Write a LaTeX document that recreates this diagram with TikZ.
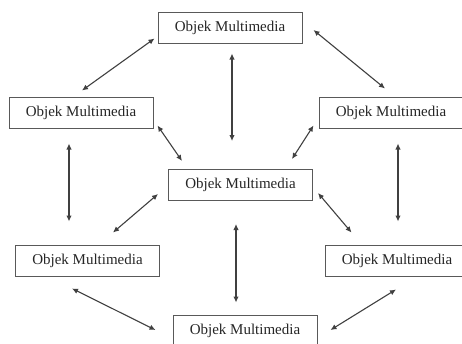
\documentclass[tikz,border=0pt]{standalone}
\usepackage{fontspec}
\setmainfont{Liberation Serif}
\usetikzlibrary{arrows.meta}
\begin{document}
\begin{tikzpicture}[x=1pt,y=1pt,
  obj/.style={draw=black!65,line width=1pt,fill=white,minimum width=144pt,minimum height=31pt,inner sep=0pt,font=\fontsize{15}{18}\selectfont,text=black!85},
  arr/.style={draw=black!75,line width=1.1pt,{Latex[length=6pt,width=5.5pt]}-{Latex[length=6pt,width=5.5pt]}}]
\path[use as bounding box] (0,0) rectangle (462,-343);
\clip (0,0) rectangle (462,-343);
\node[obj] (T)  at (230,-27.5) {Objek Multimedia};
\node[obj] (LU) at (81,-112.5) {Objek Multimedia};
\node[obj] (RU) at (391,-112.5) {Objek Multimedia};
\node[obj] (C)  at (240.5,-185) {Objek Multimedia};
\node[obj] (LL) at (87.5,-260.5) {Objek Multimedia};
\node[obj] (RL) at (397,-260.5) {Objek Multimedia};
\node[obj] (B)  at (245,-330.5) {Objek Multimedia};
% connectors
\draw[arr] ([xshift=1pt,yshift=6pt]LU.north) -- ([xshift=-3pt,yshift=5pt]T.south west);
\draw[arr] ([xshift=11pt,yshift=-2.5pt]T.east) -- ([xshift=-6pt,yshift=8pt]RU.north);
\draw[arr] ([xshift=2pt,yshift=-10pt]T.south) -- ([xshift=-8.5pt,yshift=28pt]C.north);
\draw[arr] ([xshift=-12pt,yshift=-15pt]LU.south) -- ([xshift=-18.5pt,yshift=23pt]LL.north);
\draw[arr] ([xshift=7pt,yshift=-15pt]RU.south) -- ([xshift=1pt,yshift=23pt]RL.north);
\draw[arr] ([xshift=4pt,yshift=3pt]LU.south east) -- ([xshift=14pt,yshift=8pt]C.north west);
\draw[arr] ([xshift=-5pt,yshift=3pt]RU.south west) -- ([xshift=-21pt,yshift=10pt]C.north east);
\draw[arr] ([xshift=-10pt,yshift=-9pt]C.west) -- ([xshift=25.5pt,yshift=12pt]LL.north);
\draw[arr] ([xshift=5pt,yshift=-8pt]C.east) -- ([xshift=27pt,yshift=12pt]RL.north west);
\draw[arr] ([xshift=-4.5pt,yshift=-23pt]C.south) -- ([xshift=-9pt,yshift=12pt]B.north);
\draw[arr] ([xshift=-15.5pt,yshift=-12pt]LL.south) -- ([xshift=-17pt,yshift=0.5pt]B.west);
\draw[arr] ([xshift=13pt,yshift=0.5pt]B.east) -- ([xshift=-1pt,yshift=-13pt]RL.south);
\end{tikzpicture}
\end{document}
